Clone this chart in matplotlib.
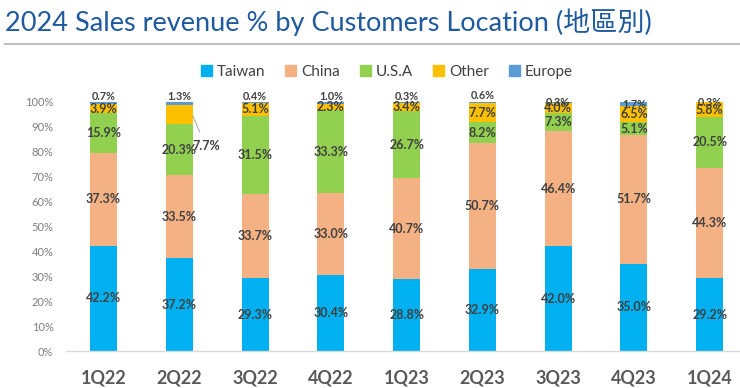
import numpy as np
import matplotlib
matplotlib.use("Agg")
import matplotlib.pyplot as plt
from matplotlib.lines import Line2D
from matplotlib.patches import Patch

quarters = ["1Q22", "2Q22", "3Q22", "4Q22", "1Q23", "2Q23", "3Q23", "4Q23", "1Q24"]
taiwan = [42.2, 37.2, 29.3, 30.4, 28.8, 32.9, 42.0, 35.0, 29.2]
china = [37.3, 33.5, 33.7, 33.0, 40.7, 50.7, 46.4, 51.7, 44.3]
usa = [15.9, 20.3, 31.5, 33.3, 26.7, 8.2, 7.3, 5.1, 20.5]
other = [3.9, 7.7, 5.1, 2.3, 3.4, 7.7, 4.0, 6.5, 5.8]
europe = [0.7, 1.3, 0.4, 1.0, 0.3, 0.6, 0.3, 1.7, 0.3]

series = [("Taiwan", taiwan, "#00B0F0"),
          ("China", china, "#F4B183"),
          ("U.S.A", usa, "#92D050"),
          ("Other", other, "#FFC000"),
          ("Europe", europe, "#5B9BD5")]

FONT = ["Lato", "Noto Sans CJK TC", "DejaVu Sans"]
plt.rcParams["font.family"] = FONT
LABEL_C = "#404040"

fig = plt.figure(figsize=(7.4, 3.88), dpi=100)
ax = fig.add_axes([66 / 740, 37 / 388, 674 / 740, 249 / 388])

x = np.arange(len(quarters))
bottom = np.zeros(len(quarters))
width = 0.356
for name, vals, col in series:
    vals = np.array(vals)
    ax.bar(x, vals, width, bottom=bottom, color=col, label=name, zorder=2)
    for i, v in enumerate(vals):
        cy = bottom[i] + v / 2
        txt = f"{v:.1f}%"
        if name == "Europe" and i < 6:
            # small top segments: label sits just above the bar
            ax.text(x[i], bottom[i] + v + 2.4, txt, ha="center", va="center",
                    fontsize=7.8, fontweight="bold", color=LABEL_C, clip_on=False)
        elif name == "Other" and i == 1:
            ax.annotate(txt, xy=(x[i] + width / 2, bottom[i] + v * 0.45),
                        xytext=(x[i] + 0.35, cy - 12.5), ha="center", va="center",
                        fontsize=9, fontweight="bold", color=LABEL_C,
                        arrowprops=dict(arrowstyle="-", color="#A6A6A6", lw=0.7,
                                        shrinkA=4, shrinkB=0))
        else:
            fs = 7.8 if name == "Europe" else 9
            ax.text(x[i], cy, txt, ha="center", va="center", fontsize=fs,
                    fontweight="bold", color=LABEL_C, clip_on=False, zorder=3)
    bottom += vals

ax.set_xlim(-0.495, 8.40)
ax.set_ylim(0, 100)
ax.set_yticks(np.arange(0, 101, 10))
ax.set_yticklabels([f"{t}%" for t in range(0, 101, 10)])
ax.set_xticks(x)
ax.set_xticklabels(quarters)
ax.tick_params(axis="y", length=0, labelsize=8, labelcolor="#7F7F7F", pad=9)
ax.tick_params(axis="x", length=0, labelsize=13, labelcolor="#595959", pad=13)
for lab in ax.get_xticklabels():
    lab.set_fontweight("bold")
for s in ["top", "right", "left"]:
    ax.spines[s].set_visible(False)
ax.spines["bottom"].set_color("#D9D9D9")
ax.spines["bottom"].set_linewidth(1)

fig.text(5 / 740, 1 - 31 / 388, "2024 Sales revenue % by Customers Location (地區別)",
         ha="left", va="baseline", fontsize=19.5, color="#1F5A9E")
fig.add_artist(Line2D([5 / 740, 1], [1 - 44 / 388] * 2, color="#BFBFBF", lw=1.5))

handles = [Patch(color=c, label=n) for n, _, c in series]
fig.legend(handles=handles, loc="center", bbox_to_anchor=(387 / 740, 1 - 72 / 388),
           ncol=5, frameon=False, fontsize=11, handlelength=0.7, handleheight=0.7,
           handletextpad=0.35, columnspacing=1.3, labelcolor=LABEL_C)

fig.savefig("out.png", dpi=100)
